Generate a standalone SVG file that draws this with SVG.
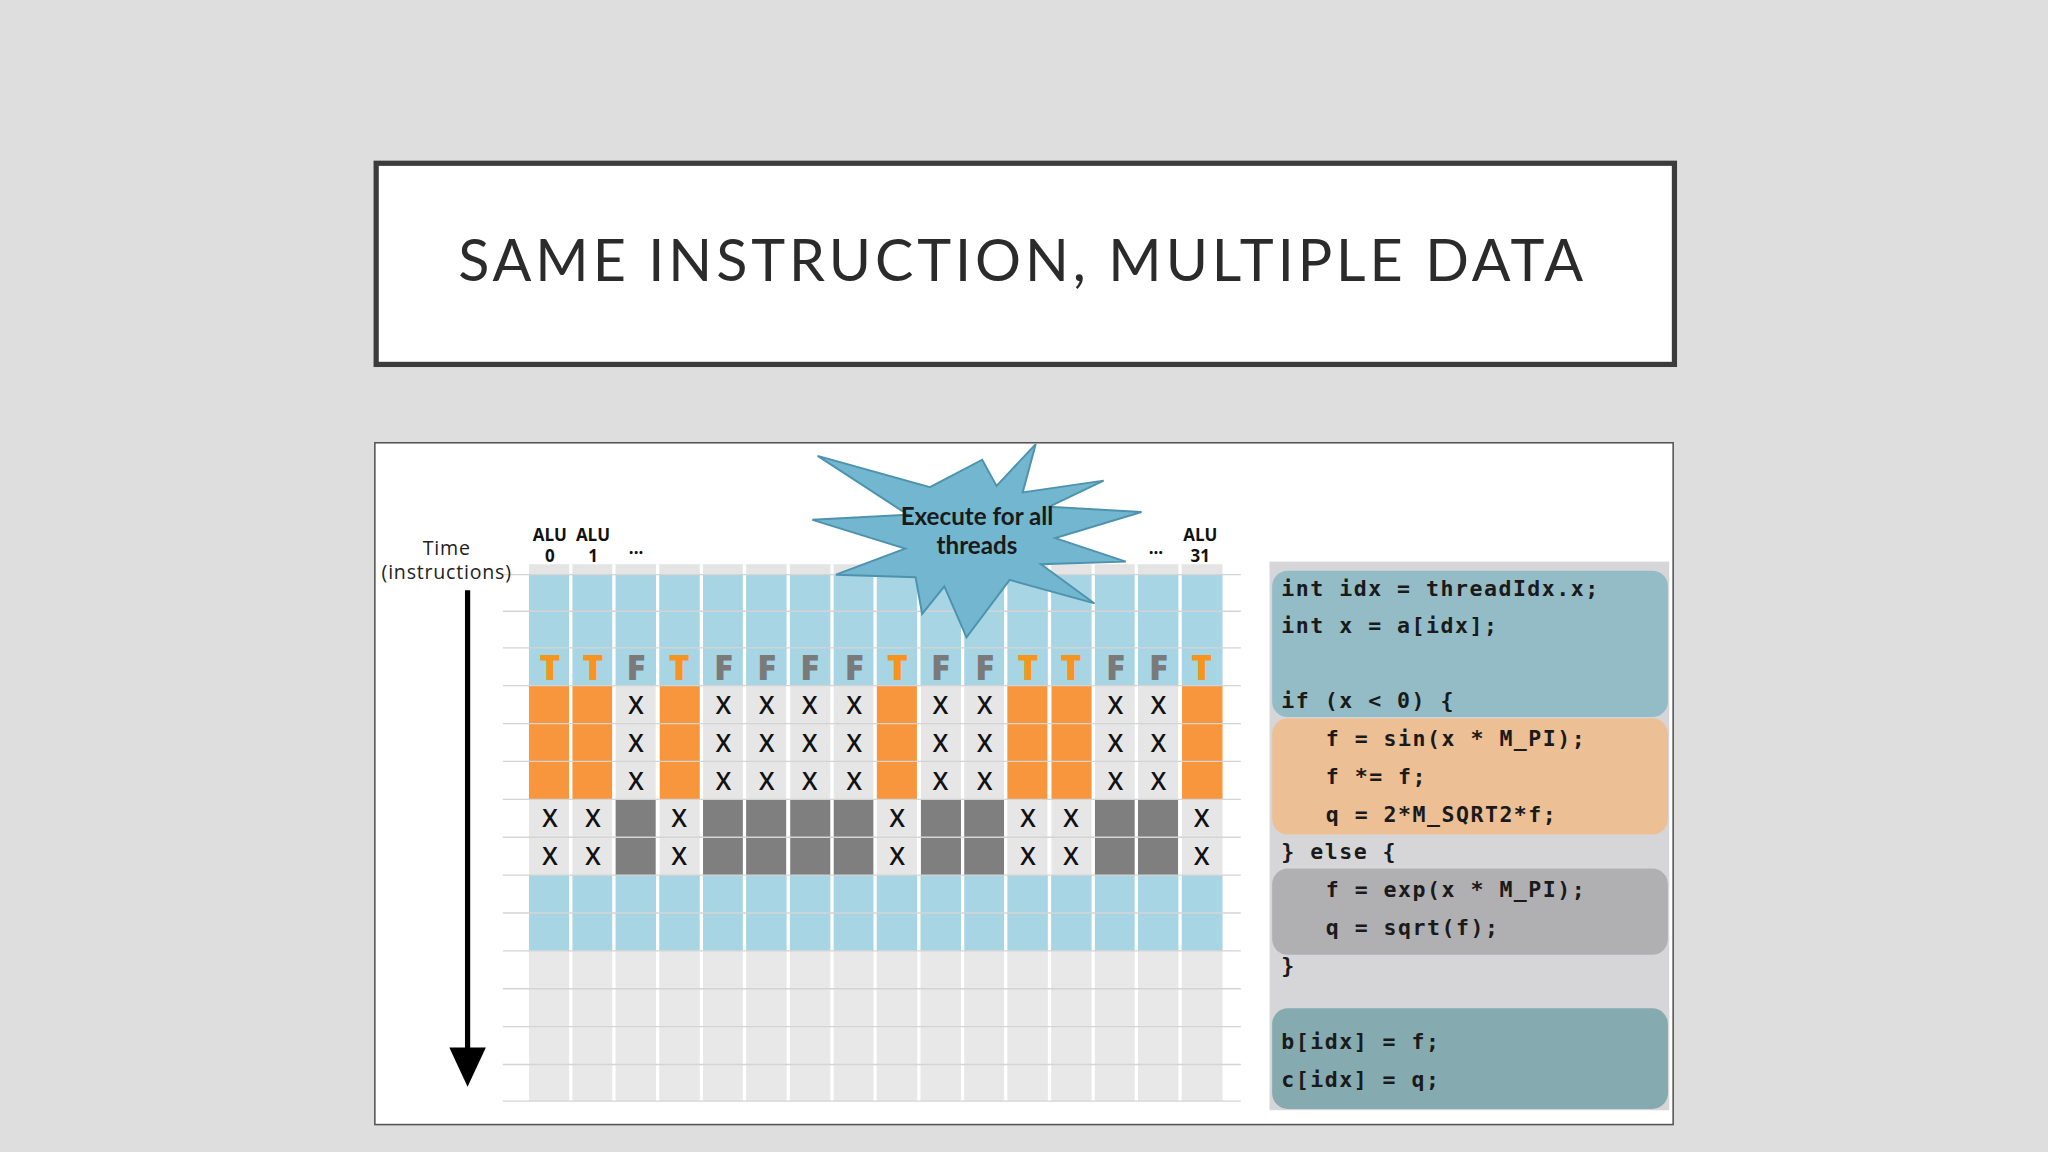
<svg xmlns="http://www.w3.org/2000/svg" width="2048" height="1152" viewBox="0 0 2048 1152">
<defs><style>
.code{font-family:"DejaVu Sans Mono","Liberation Mono",monospace;font-weight:bold;font-size:16.5px;letter-spacing:1.15px;fill:#1a1a1a}
.alu{font-family:"Open Sans","DejaVu Sans",sans-serif;font-weight:bold;font-size:13px;fill:#111;text-anchor:middle}
.x{font-family:"Open Sans","DejaVu Sans",sans-serif;font-weight:600;font-size:19px;fill:#111;text-anchor:middle}
.tf{font-family:"Open Sans","DejaVu Sans",sans-serif;font-weight:800;font-size:27px;text-anchor:middle}
</style></defs>
<rect width="2048" height="1152" fill="#dedede"/>
<g transform="scale(1.30612)">
<g id="title">
<rect x="288" y="125" width="994" height="154" fill="#fff" stroke="#3c3c3c" stroke-width="4"/>
<text x="783" y="215" text-anchor="middle" font-family="Lato,'Open Sans',sans-serif" font-size="44" letter-spacing="3" fill="#2b2b2b">SAME INSTRUCTION, MULTIPLE DATA</text>
</g>
<g id="panel">
<rect x="287" y="339" width="994" height="522" fill="#fff" stroke="#555" stroke-width="1.2"/>
</g>
<g id="grid">
<rect x="405" y="432" width="531" height="8" fill="#e4e4e4"/>
<g fill="#a7d5e3">
<rect x="405" y="440" width="531" height="85"/>
<rect x="405" y="670" width="531" height="58"/>
</g>
<rect x="405" y="728" width="531" height="115" fill="#e8e8e8"/>
<g id="cells">
<rect x="405" y="525" width="31" height="87" fill="#f7963c"/><rect x="405" y="612" width="31" height="58" fill="#e6e6e6"/>
<rect x="438" y="525" width="31" height="87" fill="#f7963c"/><rect x="438" y="612" width="31" height="58" fill="#e6e6e6"/>
<rect x="471" y="525" width="31" height="87" fill="#e6e6e6"/><rect x="471" y="612" width="31" height="58" fill="#7f7f7f"/>
<rect x="505" y="525" width="31" height="87" fill="#f7963c"/><rect x="505" y="612" width="31" height="58" fill="#e6e6e6"/>
<rect x="538" y="525" width="31" height="87" fill="#e6e6e6"/><rect x="538" y="612" width="31" height="58" fill="#7f7f7f"/>
<rect x="571" y="525" width="31" height="87" fill="#e6e6e6"/><rect x="571" y="612" width="31" height="58" fill="#7f7f7f"/>
<rect x="605" y="525" width="31" height="87" fill="#e6e6e6"/><rect x="605" y="612" width="31" height="58" fill="#7f7f7f"/>
<rect x="638" y="525" width="31" height="87" fill="#e6e6e6"/><rect x="638" y="612" width="31" height="58" fill="#7f7f7f"/>
<rect x="671" y="525" width="31" height="87" fill="#f7963c"/><rect x="671" y="612" width="31" height="58" fill="#e6e6e6"/>
<rect x="705" y="525" width="31" height="87" fill="#e6e6e6"/><rect x="705" y="612" width="31" height="58" fill="#7f7f7f"/>
<rect x="738" y="525" width="31" height="87" fill="#e6e6e6"/><rect x="738" y="612" width="31" height="58" fill="#7f7f7f"/>
<rect x="771" y="525" width="31" height="87" fill="#f7963c"/><rect x="771" y="612" width="31" height="58" fill="#e6e6e6"/>
<rect x="805" y="525" width="31" height="87" fill="#f7963c"/><rect x="805" y="612" width="31" height="58" fill="#e6e6e6"/>
<rect x="838" y="525" width="31" height="87" fill="#e6e6e6"/><rect x="838" y="612" width="31" height="58" fill="#7f7f7f"/>
<rect x="871" y="525" width="31" height="87" fill="#e6e6e6"/><rect x="871" y="612" width="31" height="58" fill="#7f7f7f"/>
<rect x="905" y="525" width="31" height="87" fill="#f7963c"/><rect x="905" y="612" width="31" height="58" fill="#e6e6e6"/>
</g>
<g stroke="#fff" stroke-width="2.5">
<line x1="437" y1="432" x2="437" y2="843"/><line x1="470" y1="432" x2="470" y2="843"/><line x1="503.5" y1="432" x2="503.5" y2="843"/><line x1="537" y1="432" x2="537" y2="843"/><line x1="570" y1="432" x2="570" y2="843"/><line x1="603.5" y1="432" x2="603.5" y2="843"/><line x1="637" y1="432" x2="637" y2="843"/><line x1="670" y1="432" x2="670" y2="843"/><line x1="703.5" y1="432" x2="703.5" y2="843"/><line x1="737" y1="432" x2="737" y2="843"/><line x1="770" y1="432" x2="770" y2="843"/><line x1="803.5" y1="432" x2="803.5" y2="843"/><line x1="837" y1="432" x2="837" y2="843"/><line x1="870" y1="432" x2="870" y2="843"/><line x1="903.5" y1="432" x2="903.5" y2="843"/>
</g>
<g stroke="#d4d4d4" stroke-width="1">
<line x1="385" y1="440" x2="950" y2="440"/><line x1="385" y1="468" x2="950" y2="468"/><line x1="385" y1="496" x2="950" y2="496"/><line x1="385" y1="525" x2="950" y2="525"/><line x1="385" y1="554" x2="950" y2="554"/><line x1="385" y1="583" x2="950" y2="583"/><line x1="385" y1="612" x2="950" y2="612"/><line x1="385" y1="641" x2="950" y2="641"/><line x1="385" y1="670" x2="950" y2="670"/><line x1="385" y1="699" x2="950" y2="699"/><line x1="385" y1="728" x2="950" y2="728"/><line x1="385" y1="757" x2="950" y2="757"/><line x1="385" y1="786" x2="950" y2="786"/><line x1="385" y1="815" x2="950" y2="815"/><line x1="385" y1="843" x2="950" y2="843"/>
</g>
<g class="tf">
<text x="421" y="521" fill="#f7941d">T</text><text x="454" y="521" fill="#f7941d">T</text><text x="487" y="521" fill="#7a7a7a">F</text><text x="520" y="521" fill="#f7941d">T</text><text x="554" y="521" fill="#7a7a7a">F</text><text x="587" y="521" fill="#7a7a7a">F</text><text x="620" y="521" fill="#7a7a7a">F</text><text x="654" y="521" fill="#7a7a7a">F</text><text x="687" y="521" fill="#f7941d">T</text><text x="720" y="521" fill="#7a7a7a">F</text><text x="754" y="521" fill="#7a7a7a">F</text><text x="787" y="521" fill="#f7941d">T</text><text x="820" y="521" fill="#f7941d">T</text><text x="854" y="521" fill="#7a7a7a">F</text><text x="887" y="521" fill="#7a7a7a">F</text><text x="920" y="521" fill="#f7941d">T</text>
</g>
<g class="x">
<text x="487" y="547">X</text><text x="487" y="576">X</text><text x="487" y="605">X</text>
<text x="554" y="547">X</text><text x="554" y="576">X</text><text x="554" y="605">X</text>
<text x="587" y="547">X</text><text x="587" y="576">X</text><text x="587" y="605">X</text>
<text x="620" y="547">X</text><text x="620" y="576">X</text><text x="620" y="605">X</text>
<text x="654" y="547">X</text><text x="654" y="576">X</text><text x="654" y="605">X</text>
<text x="720" y="547">X</text><text x="720" y="576">X</text><text x="720" y="605">X</text>
<text x="754" y="547">X</text><text x="754" y="576">X</text><text x="754" y="605">X</text>
<text x="854" y="547">X</text><text x="854" y="576">X</text><text x="854" y="605">X</text>
<text x="887" y="547">X</text><text x="887" y="576">X</text><text x="887" y="605">X</text>
<text x="421" y="633">X</text><text x="421" y="662">X</text>
<text x="454" y="633">X</text><text x="454" y="662">X</text>
<text x="520" y="633">X</text><text x="520" y="662">X</text>
<text x="687" y="633">X</text><text x="687" y="662">X</text>
<text x="787" y="633">X</text><text x="787" y="662">X</text>
<text x="820" y="633">X</text><text x="820" y="662">X</text>
<text x="920" y="633">X</text><text x="920" y="662">X</text>
</g>
</g>
<g id="labels">
<text x="421" y="414" class="alu">ALU</text><text x="421" y="430" class="alu">0</text>
<text x="454" y="414" class="alu">ALU</text><text x="454" y="430" class="alu">1</text>
<text x="487" y="424" class="alu">...</text>
<text x="885" y="424" class="alu">...</text>
<text x="919" y="414" class="alu">ALU</text><text x="919" y="430" class="alu">31</text>
<text x="342" y="425" text-anchor="middle" font-family="'Open Sans','DejaVu Sans',sans-serif" font-size="15" letter-spacing="0.6" fill="#222">Time</text>
<text x="342" y="443" text-anchor="middle" font-family="'Open Sans','DejaVu Sans',sans-serif" font-size="15" letter-spacing="0.6" fill="#222">(instructions)</text>
</g>
<g id="time-arrow">
<line x1="358" y1="452" x2="358" y2="806" stroke="#000" stroke-width="4"/>
<polygon points="344,802 372,802 358,832" fill="#000"/>
</g>
<g id="starburst">
<polygon points="793,340 783,377 845,368 803,388 874,392 808,412 862,430 797,432 838,462 773,444 740,488 723,449 706,470 701,442 640,440 693,420 622,398 695,394 626,349 712,373 752,352 763,372" fill="#72b6d0" stroke="#4d93ae" stroke-width="1.5" stroke-linejoin="miter"/>
<text x="748" y="402" text-anchor="middle" font-family="Lato,'Open Sans',sans-serif" font-weight="bold" font-size="18.5" fill="#1a1a1a">Execute for all</text>
<text x="748" y="424" text-anchor="middle" font-family="Lato,'Open Sans',sans-serif" font-weight="bold" font-size="18.5" fill="#1a1a1a">threads</text>
</g>
<g id="code">
<rect x="972" y="430" width="306" height="420" fill="#d6d6d9"/>
<rect x="974" y="437" width="303" height="112" rx="12" fill="#93bcc6"/>
<rect x="974" y="550" width="303" height="89" rx="12" fill="#ecbf95"/>
<rect x="974" y="665" width="303" height="66" rx="12" fill="#b0afb2"/>
<rect x="974" y="772" width="303" height="77" rx="12" fill="#85aab0"/>
<text class="code" x="981" y="456">int idx = threadIdx.x;</text>
<text class="code" x="981" y="485">int x = a[idx];</text>
<text class="code" x="981" y="542">if (x &lt; 0) {</text>
<text class="code" x="1015" y="571">f = sin(x * M_PI);</text>
<text class="code" x="1015" y="600">f *= f;</text>
<text class="code" x="1015" y="629">q = 2*M_SQRT2*f;</text>
<text class="code" x="981" y="658">} else {</text>
<text class="code" x="1015" y="687">f = exp(x * M_PI);</text>
<text class="code" x="1015" y="716">q = sqrt(f);</text>
<text class="code" x="981" y="745">}</text>
<text class="code" x="981" y="803">b[idx] = f;</text>
<text class="code" x="981" y="832">c[idx] = q;</text>
</g>
</g>
</svg>
